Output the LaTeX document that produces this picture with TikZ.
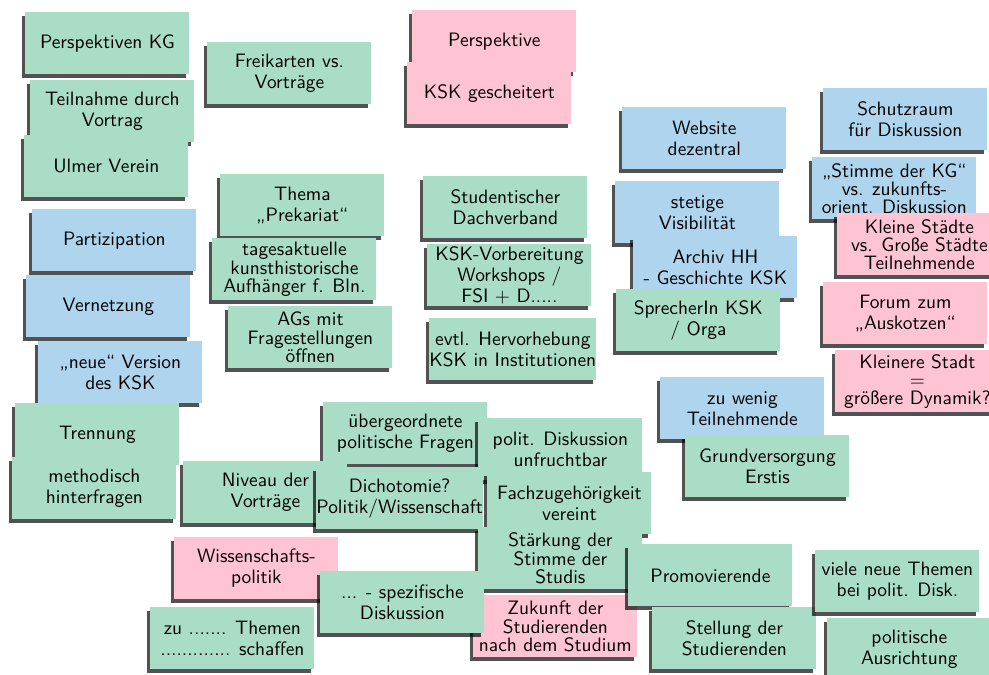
\documentclass[tikz,border=0pt]{standalone}
\usepackage{fontspec}
\usepackage{tikz}
\usetikzlibrary{shadows}
\usepackage{xcolor}
\definecolor{notegreen}{RGB}{170,221,197}
\definecolor{noteblue}{RGB}{175,213,238}
\definecolor{notepink}{RGB}{255,196,212}

\begin{document}
\begin{tikzpicture}[x=0.5pt,y=-0.5pt,
  note/.style={anchor=north west,minimum width=82pt,minimum height=31pt,inner sep=0pt,align=center,
    font=\sffamily\fontsize{9.7}{10.6}\selectfont,
    drop shadow={shadow xshift=-1.7pt,shadow yshift=-1.7pt,fill=black,opacity=0.68}},
  gnote/.style={note,fill=notegreen},
  bnote/.style={note,fill=noteblue},
  pnote/.style={note,fill=notepink},
  tight/.style={font=\sffamily\fontsize{9.7}{9.1}\selectfont}]
\useasboundingbox (0,0) rectangle (989,674);
\clip (0,0) rectangle (989,674);
% left column
\node[gnote] (kg) at (25,12) {Perspektiven KG};
\node[gnote] (teilnahme) at (30,80) {Teilnahme durch\\Vortrag};
\node[gnote] (ulm) at (24,135) {Ulmer Verein};
\node[bnote] (partizip) at (32,209) {Partizipation};
\node[bnote] (vernetz) at (26,275) {Vernetzung};
\node[bnote] (neue) at (38,341) {„neue“ Version\\des KSK};
\node[gnote] (trenn) at (15,403) {Trennung};
\node[gnote] (method) at (12,457) {methodisch\\hinterfragen};
% second column
\node[gnote] (frei) at (207,42) {Freikarten vs.\\Vorträge};
\node[gnote] (prekariat) at (220,174) {Thema\\„Prekariat“};
\node[gnote,tight] (tages) at (212,238) {tagesaktuelle\\kunsthistorische\\Aufhänger f. Bln.};
\node[gnote,tight] (ags) at (228,306) {AGs mit\\Fragestellungen\\öffnen};
% middle column
\node[pnote] (persp) at (412,10) {Perspektive};
\node[pnote] (gescheitert) at (407,62) {KSK gescheitert};
\node[gnote] (dach) at (423,176) {Studentischer\\Dachverband};
\node[gnote,tight] (vorber) at (427,244) {KSK-Vorbereitung\\Workshops /\\FSI + D.....};
\node[gnote] (hervor) at (429,318) {evtl. Hervorhebung\\KSK in Institutionen};
% right-middle column
\node[bnote] (website) at (622,107) {Website\\dezentral};
\node[bnote] (visib) at (615,181) {stetige\\Visibilität};
\node[bnote] (archiv) at (633,236) {Archiv HH\\- Geschichte KSK};
\node[gnote] (sprecher) at (616,289) {SprecherIn KSK\\/ Orga};
\node[bnote] (wenig) at (660,377) {zu wenig\\Teilnehmende};
\node[gnote] (erstis) at (685,435) {Grundversorgung\\Erstis};
% right column
\node[bnote] (schutz) at (823,88) {Schutzraum\\für Diskussion};
\node[bnote,tight] (stimme) at (812,157) {„Stimme der KG“\\vs. zukunfts-\\orient. Diskussion};
\node[pnote,tight] (staedte) at (837,213) {Kleine Städte\\vs. Große Städte\\Teilnehmende};
\node[pnote] (forum) at (823,282) {Forum zum\\„Auskotzen“};
\node[pnote,tight] (dynamik) at (835,350) {Kleinere Stadt\\=\\größere Dynamik?};
% bottom cluster
\node[gnote] (uebergeord) at (323,402) {übergeordnete\\politische Fragen};
\node[gnote] (unfrucht) at (478,418) {polit. Diskussion\\unfruchtbar};
\node[gnote] (niveau) at (183,461) {Niveau der\\Vorträge};
\node[gnote] (dicho) at (316,467) {Dichotomie?\\Politik/Wissenschaft};
\node[gnote] (fach) at (487,472) {Fachzugehörigkeit\\vereint};
\node[gnote,tight] (staerkung) at (478,527) {Stärkung der\\Stimme der\\Studis};
\node[pnote] (wisspol) at (174,537) {Wissenschafts-\\politik};
\node[pnote,tight] (zukunft) at (473,595) {Zukunft der\\Studierenden\\nach dem Studium};
\node[gnote] (spezif) at (320,571) {... - spezifische\\Diskussion};
\node[gnote] (themen) at (150,607) {zu ....... Themen\\............. schaffen};
\node[gnote] (promo) at (628,544) {Promovierende};
\node[gnote] (stellung) at (652,607) {Stellung der\\Studierenden};
\node[gnote] (viele) at (815,550) {viele neue Themen\\bei polit. Disk.};
\node[gnote] (ausricht) at (827,618) {politische\\Ausrichtung};
\end{tikzpicture}
\end{document}
